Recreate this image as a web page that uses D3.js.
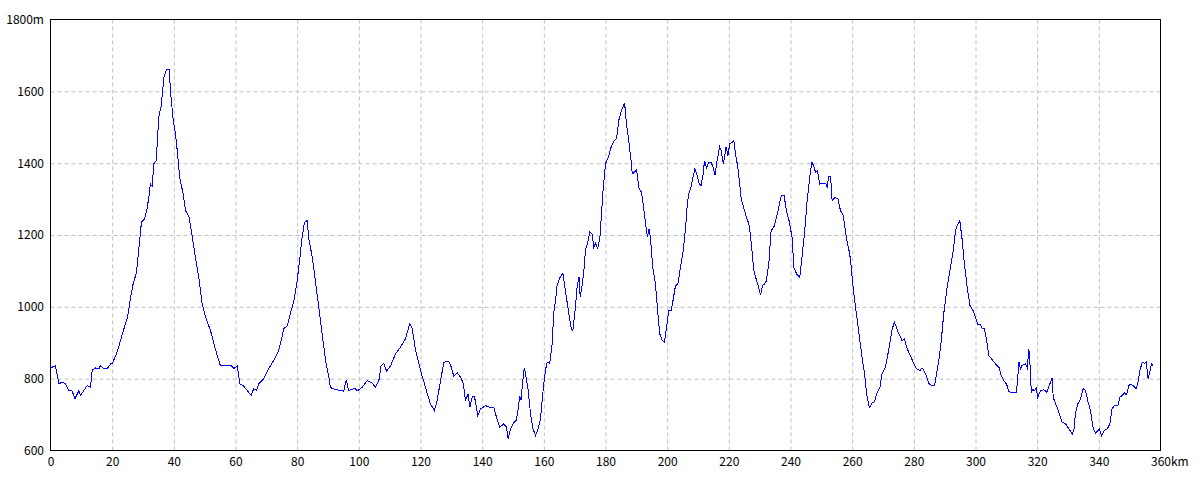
<!DOCTYPE html>
<html>
<head>
<meta charset="utf-8">
<script src="https://cdn.jsdelivr.net/npm/d3@7"></script>
<style>
  body { margin: 0; background: #fff; }
  svg text { font-family: "Noto Sans CJK JP", "DejaVu Sans", sans-serif; font-size: 12px; fill: #000; }
</style>
</head>
<body>
<div id="chart"></div>
<script>
// distance along the route (km)
var distKm = [
  0, 1.6, 2.7, 3.8, 4.9, 5.9, 7.0, 7.9, 9.2, 9.7, 10.8, 11.9, 13.0, 13.5, 14.6, 15.7, 16.2, 17.3, 18.4, 19.5,
  20.0, 21.6, 22.7, 24.3, 25.0, 25.9, 26.8, 27.9, 28.6, 29.5, 30.5, 31.2, 31.9, 32.4, 33.0, 33.5, 34.3, 35.1, 35.9, 36.8,
  37.6, 38.5, 38.9, 39.8, 40.5, 41.0, 41.9, 43.0, 43.8, 44.9, 46.0, 47.0, 48.1, 49.2, 50.3, 51.9, 53.0, 54.1, 55.1, 56.8,
  58.4, 59.5, 60.6, 61.4, 62.7, 63.8, 65.1, 65.9, 66.8, 67.6, 69.2, 70.8, 72.4, 74.0, 75.7, 76.8, 77.8, 78.9, 80.0, 80.9,
  81.6, 82.4, 83.2, 83.8, 84.9, 85.9, 87.0, 88.1, 89.2, 90.3, 90.8, 92.4, 95.1, 95.9, 96.7, 97.8, 98.9, 99.4, 101.1, 102.7,
  104.3, 105.4, 106.5, 107.2, 108.1, 109.0, 110.3, 111.9, 113.5, 115.1, 116.5, 117.3, 118.4, 120.0, 121.6, 123.2, 124.5, 125.4, 126.5, 127.6,
  129.2, 130.0, 130.8, 131.9, 133.0, 133.9, 134.6, 135.4, 136.0, 136.8, 137.5, 138.6, 139.5, 141.1, 142.5, 143.8, 144.9, 145.7, 147.0, 147.9,
  148.4, 149.2, 150.3, 151.1, 151.6, 152.2, 152.6, 153.5, 153.8, 154.8, 155.7, 156.5, 157.3, 158.0, 158.9, 159.8, 160.5, 161.1, 161.9, 162.7,
  163.2, 163.8, 164.3, 165.2, 166.2, 167.0, 168.1, 168.9, 169.4, 170.3, 170.8, 171.4, 171.8, 172.5, 173.0, 173.5, 174.4, 174.9, 175.7, 176.2,
  176.8, 177.5, 178.2, 178.7, 179.2, 180.0, 181.1, 181.8, 182.7, 183.6, 184.3, 185.2, 186.2, 186.8, 187.6, 188.3, 188.7, 190.1, 190.9, 191.7,
  192.2, 193.0, 193.6, 194.1, 194.6, 195.3, 196.2, 197.0, 197.6, 198.4, 199.1, 199.8, 200.5, 201.3, 201.9, 202.7, 203.5, 204.3, 205.2, 206.0,
  206.5, 207.0, 207.8, 208.5, 209.0, 209.7, 210.4, 211.0, 211.7, 212.1, 212.8, 213.5, 214.2, 214.9, 215.5, 216.2, 217.0, 217.5, 218.2, 218.6,
  219.1, 219.7, 220.3, 221.1, 221.6, 222.1, 222.9, 223.4, 224.0, 224.8, 225.7, 226.5, 227.0, 227.6, 228.1, 229.0, 229.8, 230.3, 230.9, 231.6,
  232.2, 233.0, 233.7, 234.6, 235.5, 236.2, 237.0, 237.9, 238.7, 239.5, 240.5, 241.1, 242.0, 243.0, 243.6, 244.3, 244.9, 245.4, 246.0, 246.5,
  247.0, 247.6, 248.1, 248.7, 249.5, 250.6, 251.4, 251.9, 252.4, 253.0, 253.5, 254.3, 255.4, 256.2, 257.1, 257.8, 258.4, 259.2, 259.7, 260.3,
  261.1, 261.8, 262.5, 263.2, 264.0, 264.7, 265.4, 265.7, 266.5, 267.2, 268.1, 269.0, 269.7, 270.8, 271.6, 272.2, 273.0, 273.7, 274.4, 275.1,
  276.2, 277.0, 277.6, 278.9, 280.0, 280.9, 282.0, 282.7, 283.8, 284.9, 286.0, 286.7, 287.4, 288.1, 288.9, 289.7, 290.8, 291.9, 292.8, 293.5,
  294.3, 294.9, 295.7, 296.4, 297.3, 298.2, 299.2, 300.0, 300.8, 301.6, 302.2, 302.9, 303.8, 304.3, 305.4, 306.5, 307.6, 308.3, 309.2, 310.1,
  310.8, 311.9, 313.3, 313.7, 314.1, 314.6, 315.0, 316.2, 316.8, 317.3, 317.6, 318.1, 318.6, 319.1, 319.7, 320.2, 321.1, 322.2, 323.2, 324.1,
  324.9, 325.2, 326.0, 327.0, 328.1, 329.2, 330.3, 331.4, 331.9, 332.4, 333.2, 334.1, 334.9, 335.7, 336.4, 337.3, 338.2, 338.9, 340.2, 340.9,
  341.8, 342.7, 343.6, 344.3, 345.1, 346.2, 346.8, 347.6, 348.3, 349.0, 349.7, 350.5, 351.4, 352.2, 352.7, 353.3, 354.1, 354.8, 355.5, 355.7,
  356.0, 356.5, 357.1, 357.6
];

// elevation (m)
var elevM = [
  830, 836, 786, 790, 786, 767, 766, 744, 766, 753, 767, 781, 776, 823, 830, 828, 836, 827, 828, 841,
  841, 874, 906, 953, 971, 1022, 1064, 1096, 1157, 1236, 1245, 1268, 1305, 1342, 1336, 1398, 1407, 1528, 1560, 1639,
  1660, 1660, 1602, 1519, 1482, 1444, 1361, 1315, 1268, 1250, 1194, 1138, 1082, 1008, 971, 934, 897, 864, 836, 836,
  838, 828, 836, 786, 779, 767, 753, 772, 767, 786, 800, 828, 851, 878, 939, 948, 981, 1015, 1073, 1138,
  1194, 1236, 1240, 1189, 1138, 1073, 999, 925, 851, 804, 775, 770, 765, 797, 767, 770, 773, 765, 776, 795,
  788, 776, 795, 836, 842, 821, 836, 869, 888, 911, 953, 941, 878, 823, 776, 730, 711, 739, 795, 846,
  848, 832, 806, 816, 804, 786, 739, 758, 720, 749, 751, 697, 716, 725, 720, 720, 684, 665, 674, 665,
  633, 660, 678, 684, 711, 751, 741, 823, 827, 776, 702, 660, 642, 656, 688, 770, 823, 846, 842, 897,
  981, 1018, 1059, 1081, 1094, 1045, 981, 939, 934, 1004, 1055, 1084, 1027, 1064, 1101, 1157, 1185, 1208, 1203, 1166,
  1177, 1162, 1194, 1259, 1324, 1398, 1421, 1444, 1461, 1468, 1519, 1547, 1567, 1510, 1458, 1407, 1370, 1381, 1328, 1319,
  1287, 1231, 1194, 1217, 1190, 1110, 1064, 981, 925, 906, 902, 943, 990, 990, 1018, 1059, 1064, 1110, 1157, 1222,
  1282, 1315, 1335, 1366, 1384, 1366, 1342, 1338, 1371, 1407, 1387, 1403, 1403, 1389, 1366, 1407, 1446, 1435, 1398, 1417,
  1446, 1421, 1454, 1458, 1463, 1430, 1389, 1352, 1301, 1277, 1250, 1231, 1199, 1148, 1101, 1073, 1050, 1032, 1059, 1064,
  1073, 1124, 1212, 1222, 1250, 1277, 1310, 1310, 1268, 1241, 1194, 1110, 1091, 1082, 1129, 1185, 1240, 1296, 1342, 1379,
  1403, 1390, 1375, 1379, 1342, 1344, 1344, 1333, 1363, 1363, 1296, 1304, 1301, 1268, 1255, 1212, 1180, 1148, 1110, 1055,
  999, 953, 906, 860, 814, 758, 725, 720, 734, 735, 762, 776, 814, 832, 869, 897, 939, 957, 943, 925,
  906, 911, 888, 864, 841, 827, 823, 830, 814, 786, 780, 781, 814, 851, 906, 981, 1055, 1110, 1157, 1212,
  1231, 1240, 1185, 1120, 1055, 1004, 990, 971, 951, 951, 939, 939, 897, 864, 853, 841, 832, 809, 795, 784,
  765, 760, 762, 804, 846, 827, 836, 841, 830, 883, 851, 762, 770, 767, 774, 748, 767, 769, 762, 785,
  802, 748, 730, 707, 679, 674, 660, 646, 656, 702, 730, 744, 772, 767, 739, 711, 660, 648, 660, 642,
  656, 660, 674, 716, 725, 725, 748, 753, 760, 755, 781, 785, 778, 772, 790, 823, 846, 843, 848, 815,
  800, 818, 841, 836
];

var xTicks = [0, 20, 40, 60, 80, 100, 120, 140, 160, 180, 200, 220, 240, 260, 280, 300, 320, 340, 360];
var yTicks = [600, 800, 1000, 1200, 1400, 1600, 1800];

var W = 1200, H = 480;
var plot = {left: 50.5, right: 1160.5, top: 19.5, bottom: 450.5};

var svg = d3.select("#chart").append("svg")
  .attr("width", W)
  .attr("height", H);

svg.append("rect").attr("width", W).attr("height", H).attr("fill", "#fff");

var x = d3.scaleLinear().domain([0, 360]).range([plot.left, plot.right]);
var y = d3.scaleLinear().domain([600, 1800]).range([plot.bottom, plot.top]);

// grid lines
var gx = svg.append("g")
  .attr("transform", "translate(0," + plot.top + ")")
  .call(d3.axisBottom(x).tickValues(xTicks.slice(1, -1)).tickSize(plot.bottom - plot.top).tickFormat(""));
var gy = svg.append("g")
  .attr("transform", "translate(" + plot.left + ",0)")
  .call(d3.axisRight(y).tickValues(yTicks.slice(1, -1)).tickSize(plot.right - plot.left).tickFormat(""));
[gx, gy].forEach(function(g) {
  g.select(".domain").remove();
  g.selectAll("line")
    .attr("stroke", "#c0c0c0")
    .attr("stroke-dasharray", "4,3");
});

// the profile line (drawn aliased, like the original bitmap)
var data = distKm.map(function(d, i) { return [d, elevM[i]]; });
var line = d3.line()
  .x(function(d) { return x(d[0]); })
  .y(function(d) { return y(d[1]); });

svg.append("path")
  .datum(data)
  .attr("fill", "none")
  .attr("stroke", "#0000ff")
  .attr("stroke-width", 1)
  .attr("shape-rendering", "crispEdges")
  .attr("d", line);

// frame
svg.append("rect")
  .attr("x", plot.left).attr("y", plot.top)
  .attr("width", plot.right - plot.left).attr("height", plot.bottom - plot.top)
  .attr("fill", "none")
  .attr("stroke", "#000");

// axis labels
var ax = svg.append("g")
  .attr("transform", "translate(0," + plot.bottom + ")")
  .call(d3.axisBottom(x).tickValues(xTicks).tickSize(0).tickPadding(7)
    .tickFormat(function(d) { return d; }));
ax.select(".domain").remove();
ax.attr("font-family", null).attr("font-size", null);
// last label carries the unit, with the number centred on its tick
ax.selectAll(".tick").filter(function(d) { return d === 360; }).select("text")
  .each(function() {
    var t = d3.select(this);
    var w = this.getComputedTextLength();
    t.text("360km").attr("text-anchor", "start").attr("x", -w / 2);
  });

var ay = svg.append("g")
  .attr("transform", "translate(" + (plot.left - 0.5) + ",0)")
  .call(d3.axisLeft(y).tickValues(yTicks).tickSize(0).tickPadding(6)
    .tickFormat(function(d) { return d === 1800 ? "1800m" : d; }));
ay.select(".domain").remove();
ay.attr("font-family", null).attr("font-size", null);
</script>
</body>
</html>
